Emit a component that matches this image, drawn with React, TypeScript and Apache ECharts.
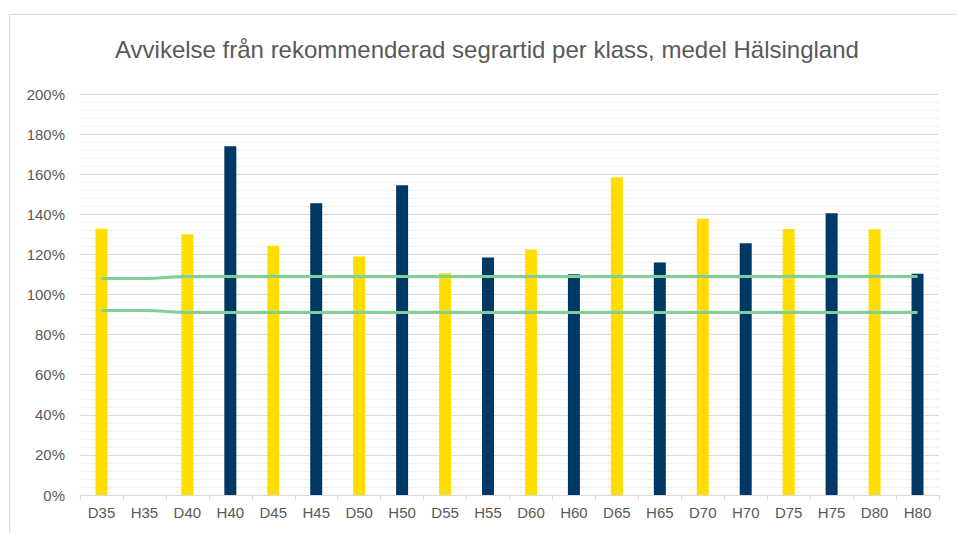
import React, { useEffect, useRef } from "react";
import * as echarts from "echarts";

const categories = ["D35", "H35", "D40", "H40", "D45", "H45", "D50", "H50", "D55", "H55", "D60", "H60", "D65", "H65", "D70", "H70", "D75", "H75", "D80", "H80"];
const deviation = [132.8, null, 130, 174, 124.3, 145.5, 118.9, 154.5, 110.6, 118.5, 122.4, 110.1, 158.5, 115.9, 137.8, 125.5, 132.7, 140.5, 132.5, 110.4];
const upperLimit = [108, 108, 109, 109, 109, 109, 109, 109, 109, 109, 109, 109, 109, 109, 109, 109, 109, 109, 109, 109];
const lowerLimit = [92, 92, 91, 91, 91, 91, 91, 91, 91, 91, 91, 91, 91, 91, 91, 91, 91, 91, 91, 91];
const title = "Avvikelse från rekommenderad segrartid per klass, medel Hälsingland";

const YELLOW = "#FFDD00";
const NAVY = "#003865";
const GREEN = "#82CE98";

export default function App() {
  const ref = useRef<HTMLDivElement>(null);
  useEffect(() => {
    if (!ref.current) return;
    const chart = echarts.init(ref.current, null, { renderer: "svg" });
    chart.setOption({
      animation: false,
      backgroundColor: "#ffffff",
      textStyle: { fontFamily: "Liberation Sans, Arial, sans-serif" },
      title: {
        text: title,
        left: 110,
        top: 32,
        textStyle: { fontSize: 24, fontWeight: "normal", color: "#595959" },
      },
      graphic: [
        {
          type: "rect",
          left: 7,
          top: 12,
          shape: { width: 1000, height: 600 },
          style: { fill: "none", stroke: "#d9d9d9", lineWidth: 1 },
          silent: true,
        },
      ],
      grid: { left: 80, right: 18, top: 94, bottom: 38, containLabel: false },
      xAxis: {
        type: "category",
        data: categories,
        boundaryGap: true,
        axisLine: { lineStyle: { color: "#d9d9d9", width: 1 } },
        axisTick: { show: true, length: 5, lineStyle: { color: "#d9d9d9" } },
        axisLabel: { color: "#595959", fontSize: 15, margin: 10, interval: 0 },
      },
      yAxis: {
        type: "value",
        min: 0,
        max: 200,
        interval: 20,
        axisLine: { show: false },
        axisTick: { show: false },
        axisLabel: { color: "#595959", fontSize: 15, margin: 15, formatter: "{value}%" },
        splitLine: { lineStyle: { color: "#d9d9d9", width: 1 } },
        minorTick: { show: false, splitNumber: 5 },
        minorSplitLine: { show: true, lineStyle: { color: "#f0f0f0", width: 1 } },
      },
      series: [
        {
          type: "bar",
          data: deviation.map((v, i) => ({
            value: v,
            itemStyle: { color: categories[i].startsWith("D") ? YELLOW : NAVY },
          })),
          barWidth: 12,
          z: 2,
        },
        {
          type: "line",
          data: upperLimit,
          symbol: "none",
          smooth: 0.3,
          lineStyle: { color: GREEN, width: 3 },
          z: 3,
        },
        {
          type: "line",
          data: lowerLimit,
          symbol: "none",
          smooth: 0.3,
          lineStyle: { color: GREEN, width: 3 },
          z: 3,
        },
      ],
    });
    return () => chart.dispose();
  }, []);
  return (
    <div style={{ position: "absolute", left: 0, top: 0, width: 957, height: 533 }}>
      <div ref={ref} style={{ width: 957, height: 533 }} />
    </div>
  );
}
